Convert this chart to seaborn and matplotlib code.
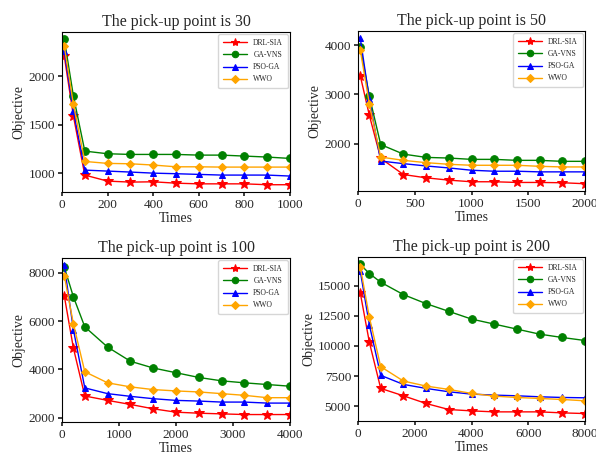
import matplotlib
matplotlib.use("Agg")
import matplotlib.pyplot as plt
import seaborn as sns
import pandas as pd

sns.set_theme(style="white")
plt.rcParams['font.family'] = ['Liberation Serif', 'DejaVu Serif']

methods = ["DRL-SIA", "GA-VNS", "PSO-GA", "WWO"]
colors = ["red", "green", "blue", "orange"]
markers = ["*", "o", "^", "D"]

titles = ["The pick-up point is 30", "The pick-up point is 50",
          "The pick-up point is 100", "The pick-up point is 200"]

x30 = [10, 50, 100, 200, 300, 400, 500, 600, 700, 800, 900, 1000]
x50 = [20, 100, 200, 400, 600, 800, 1000, 1200, 1400, 1600, 1800, 2000]
x100 = [40, 200, 400, 800, 1200, 1600, 2000, 2400, 2800, 3200, 3600, 4000]
x200 = [80, 400, 800, 1600, 2400, 3200, 4000, 4800, 5600, 6400, 7200, 8000]

p30_drl = [2205, 1589, 983, 921, 911, 914, 900, 893, 893, 893, 884, 884]
p30_ga = [2377, 1795, 1229, 1202, 1195, 1195, 1195, 1188, 1188, 1178, 1168, 1154]
p30_pso = [2257, 1640, 1034, 1024, 1014, 1003, 997, 990, 983, 983, 983, 973]
p30_wwo = [2308, 1709, 1123, 1103, 1099, 1086, 1068, 1068, 1065, 1065, 1065, 1065]

p50_drl = [3378, 2575, 1700, 1371, 1304, 1257, 1224, 1224, 1210, 1210, 1204, 1184]
p50_ga = [3967, 2963, 1980, 1786, 1719, 1706, 1679, 1679, 1659, 1659, 1639, 1639]
p50_pso = [4140, 2900, 1645, 1592, 1545, 1505, 1458, 1438, 1438, 1425, 1425, 1425]
p50_wwo = [3900, 2809, 1726, 1659, 1612, 1579, 1559, 1559, 1559, 1538, 1525, 1525]

p100_drl = [7049, 4881, 2895, 2713, 2545, 2364, 2224, 2182, 2154, 2126, 2126, 2126]
p100_ga = [8238, 7007, 5762, 4923, 4336, 4056, 3860, 3664, 3524, 3441, 3371, 3301]
p100_pso = [8308, 5650, 3231, 2993, 2881, 2783, 2713, 2685, 2643, 2643, 2601, 2601]
p100_wwo = [7888, 5888, 3902, 3441, 3273, 3161, 3105, 3063, 2993, 2923, 2825, 2825]

p200_drl = [14389, 10306, 6472, 5861, 5222, 4722, 4611, 4528, 4528, 4528, 4444, 4389]
p200_ga = [16750, 16000, 15278, 14250, 13500, 12861, 12222, 11806, 11389, 10972, 10694, 10444]
p200_pso = [16194, 11750, 7556, 6806, 6472, 6194, 6000, 5917, 5861, 5778, 5722, 5694]
p200_wwo = [16556, 12389, 8278, 7083, 6667, 6389, 6056, 5833, 5722, 5639, 5556, 5444]

panels = [
    (x30, [p30_drl, p30_ga, p30_pso, p30_wwo], 1000),
    (x50, [p50_drl, p50_ga, p50_pso, p50_wwo], 2000),
    (x100, [p100_drl, p100_ga, p100_pso, p100_wwo], 4000),
    (x200, [p200_drl, p200_ga, p200_pso, p200_wwo], 8000),
]

marker_sizes = {"*": 7, "o": 5.5, "^": 5, "D": 4.5}

fig = plt.figure(figsize=(5.96, 4.62), dpi=100)
W, H = 596, 462
boxes = [(62, 32, 290, 192), (358, 31, 585, 191), (62, 258, 290, 422), (358, 257, 585, 421)]

for (xs, series, xmax), title, (l, t, r, b) in zip(panels, titles, boxes):
    ax = fig.add_axes([l / W, 1 - b / H, (r - l) / W, (b - t) / H])
    rows = []
    for m, ys in zip(methods, series):
        for xv, yv in zip(xs, ys):
            rows.append({"Times": xv, "Objective": yv, "Method": m})
    df = pd.DataFrame(rows)
    for m, c, mk in zip(methods, colors, markers):
        sub = df[df["Method"] == m]
        sns.lineplot(data=sub, x="Times", y="Objective", ax=ax, color=c,
                     marker=mk, markersize=marker_sizes[mk], markeredgecolor=c,
                     linewidth=1.0, label=m)
    ax.set_xlim(0, xmax)
    ax.set_title(title, fontsize=11.5, pad=4)
    ax.set_xlabel("Times", fontsize=10, labelpad=1)
    ax.set_ylabel("Objective", fontsize=10, labelpad=2)
    ax.tick_params(axis="both", labelsize=9.5, length=3, pad=2, left=True, bottom=True)
    for s in ax.spines.values():
        s.set_color("black")
        s.set_linewidth(0.8)
    leg = ax.legend(loc="upper right", fontsize=5.5, frameon=True, handlelength=3.2,
                    borderpad=0.6, labelspacing=0.55, fancybox=True, markerscale=0.85,
                    borderaxespad=0.3)
    leg.get_frame().set_edgecolor("#cccccc")

fig.savefig("out.png", dpi=100)
